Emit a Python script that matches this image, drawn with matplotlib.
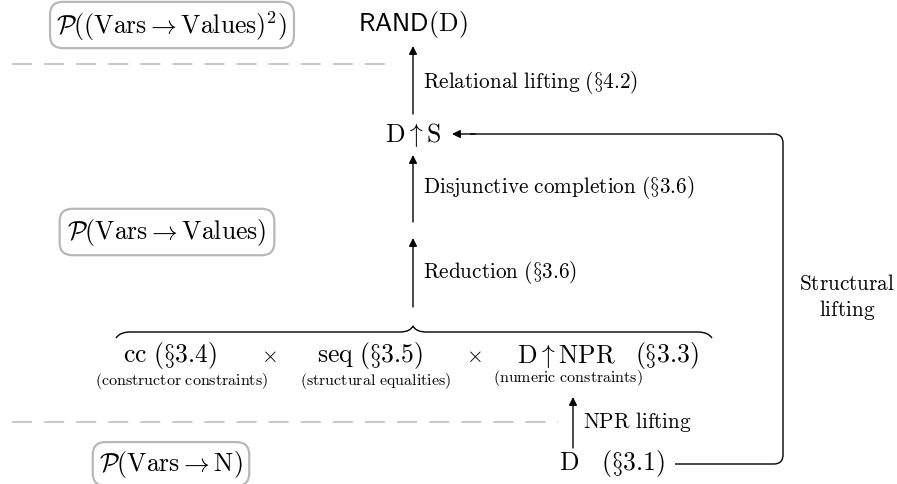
import matplotlib.pyplot as plt
from matplotlib.path import Path
from matplotlib.patches import PathPatch

plt.rcParams['mathtext.fontset'] = 'cm'

# Diagram content
level_labels = [r'$\mathcal{P}((\mathrm{Vars}\rightarrow\mathrm{Values})^2)$',
                r'$\mathcal{P}(\mathrm{Vars}\rightarrow\mathrm{Values})$',
                r'$\mathcal{P}(\mathrm{Vars}\rightarrow\mathrm{N})$']
node_rand = r'$\mathsf{RAND}(\mathrm{D})$'
node_dus = r'$\mathrm{D}\uparrow\mathrm{S}$'
node_d = r'$\mathrm{D}\ \ \ (\S 3.1)$'
product_terms = [r'$\mathrm{cc}\ (\S 3.4)$', r'$\mathrm{seq}\ (\S 3.5)$',
                 r'$\mathrm{D}\uparrow\mathrm{NPR}$', r'$(\S 3.3)$']
product_notes = [r'$\mathrm{(constructor\ constraints)}$',
                 r'$\mathrm{(structural\ equalities)}$',
                 r'$\mathrm{(numeric\ constraints)}$']
edge_labels = [r'$\mathrm{Relational\ lifting\ (\S 4.2)}$',
               r'$\mathrm{Disjunctive\ completion\ (\S 3.6)}$',
               r'$\mathrm{Reduction\ (\S 3.6)}$',
               r'$\mathrm{NPR\ lifting}$']
side_label = r'$\mathrm{Structural}$' + '\n' + r'$\mathrm{lifting}$'

W, H = 897, 485
fig = plt.figure(figsize=(W / 100, H / 100), dpi=100)
ax = fig.add_axes([0, 0, 1, 1])
ax.set_xlim(0, W)
ax.set_ylim(H, 0)
ax.axis('off')

BIG = 18.5
MID = 15.3
SMALL = 11.5
box = dict(boxstyle='round,pad=0.25,rounding_size=0.5', fc='white', ec='#b8b8b8', lw=1.6)

# level boxes
ax.text(172, 26, level_labels[0], fontsize=BIG, ha='center', va='center', bbox=box)
ax.text(167, 233, level_labels[1], fontsize=BIG, ha='center', va='center',
        bbox=dict(box, boxstyle='round,pad=0.3,rounding_size=0.5'))
ax.text(171, 465, level_labels[2], fontsize=BIG, ha='center', va='center', bbox=box)

# dashed separators
dash = dict(color='#c8c8c8', lw=1.4, dashes=(10.3, 6.2))
ax.plot([12, 393], [65, 65], **dash)
ax.plot([12, 558], [423, 423], **dash)

# nodes
ax.text(413, 25, node_rand, fontsize=BIG, ha='center', va='center')
ax.text(413, 135, node_dus, fontsize=BIG, ha='center', va='center')
ax.text(612, 464, node_d, fontsize=BIG, ha='center', va='center')

# product row
prod_x = [170, 370, 566, 667]
for x, t in zip(prod_x, product_terms):
    ax.text(x, 356, t, fontsize=BIG, ha='center', va='center')
for x in [269, 474]:
    ax.text(x, 356, r'$\times$', fontsize=BIG - 3, ha='center', va='center')
note_x = [182, 376, 568]
note_y = [381, 381, 378]
for x, y, t in zip(note_x, note_y, product_notes):
    ax.text(x, y, t, fontsize=SMALL, ha='center', va='center')

# vertical arrows
arrow = dict(arrowstyle='-|>', lw=1.0, color='black', mutation_scale=12,
             shrinkA=0, shrinkB=0)
vert = [(413, 115, 47), (413, 223, 156), (413, 308, 239), (573, 449, 398)]
for x, y0, y1 in vert:
    ax.annotate('', xy=(x, y1), xytext=(x, y0), arrowprops=arrow)
lab_pos = [(423, 82), (423, 188), (423, 273), (583, 422)]
for (x, y), t in zip(lab_pos, edge_labels):
    ax.text(x, y, t, fontsize=MID, ha='left', va='center')

# brace under the reduction arrow
brace = Path([(116, 339), (120, 333), (130, 333), (400, 333), (410, 333),
              (413, 327), (416, 333), (426, 333), (698, 333), (708, 333),
              (712, 339)],
             [Path.MOVETO, Path.CURVE3, Path.CURVE3, Path.LINETO, Path.CURVE3,
              Path.CURVE3, Path.CURVE3, Path.CURVE3, Path.LINETO, Path.CURVE3,
              Path.CURVE3])
ax.add_patch(PathPatch(brace, fc='none', ec='black', lw=1.0))

# structural lifting loop
r = 9
loop = Path([(675, 465), (783 - r, 465), (783, 465), (783, 465 - r),
             (783, 135 + r), (783, 135), (783 - r, 135), (470, 135)],
            [Path.MOVETO, Path.LINETO, Path.CURVE3, Path.CURVE3,
             Path.LINETO, Path.CURVE3, Path.CURVE3, Path.LINETO])
ax.add_patch(PathPatch(loop, fc='none', ec='black', lw=1.0))
ax.annotate('', xy=(452, 135), xytext=(475, 135), arrowprops=arrow)
ax.text(847, 298, side_label, fontsize=MID, ha='center', va='center',
        linespacing=1.2)

fig.savefig('out.png', dpi=100)
